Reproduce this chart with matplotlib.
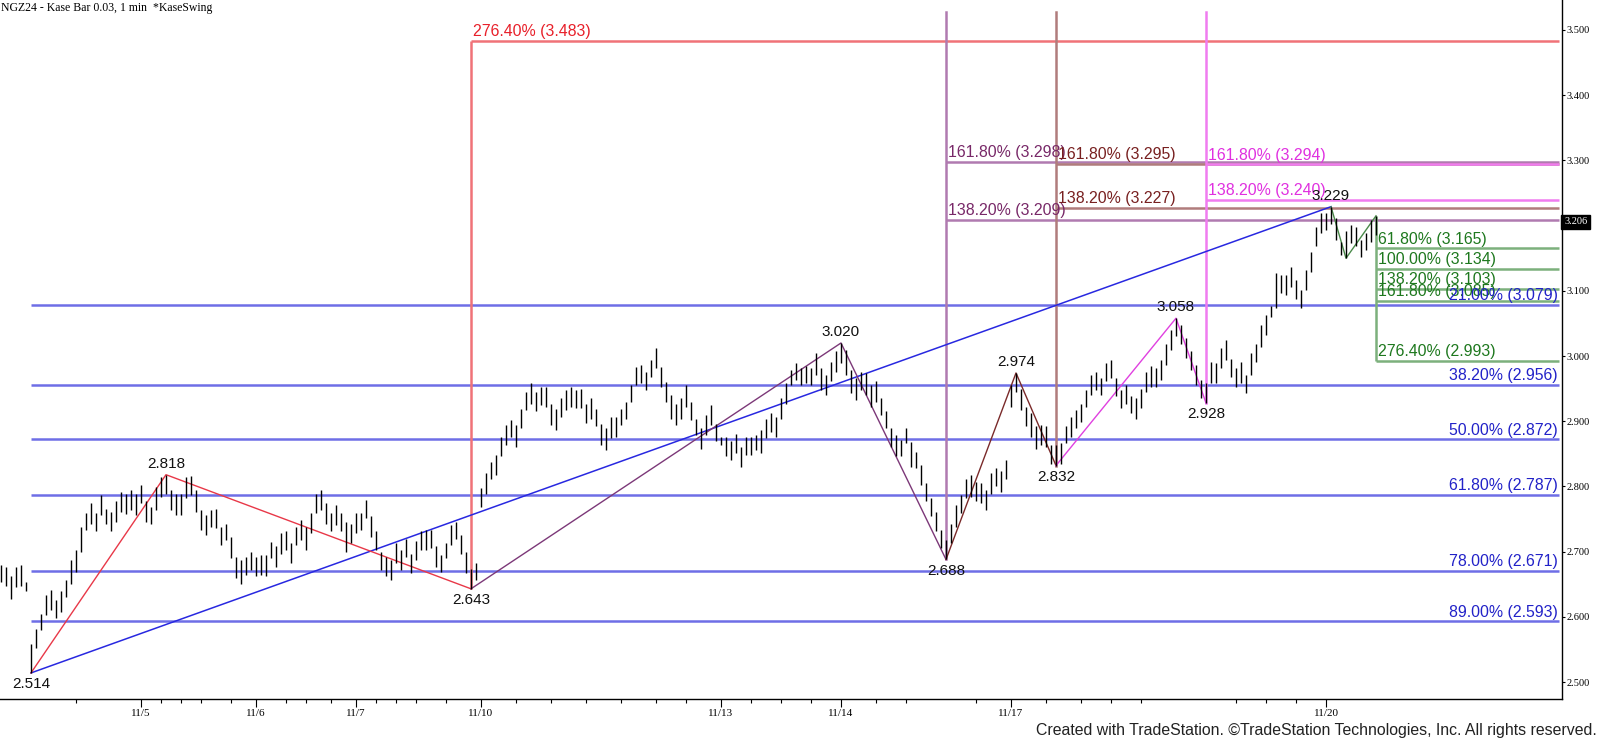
import numpy as np
import matplotlib
matplotlib.use('Agg')
import matplotlib.pyplot as plt
from matplotlib.ticker import FixedLocator, FormatStrFormatter

# Kase bars (0.03), bar index -> low / high
bar_lo = [2.653, 2.648, 2.628, 2.646, 2.648, 2.640, 2.514, 2.552, 2.580, 2.603,
          2.610, 2.598, 2.608, 2.631, 2.651, 2.669, 2.700, 2.733, 2.743, 2.731,
          2.756, 2.743, 2.731, 2.746, 2.761, 2.758, 2.764, 2.756, 2.774, 2.746,
          2.743, 2.764, 2.784, 2.789, 2.764, 2.756, 2.756, 2.782, 2.787, 2.761,
          2.733, 2.725, 2.738, 2.736, 2.710, 2.718, 2.690, 2.659, 2.651, 2.664,
          2.672, 2.662, 2.664, 2.662, 2.690, 2.677, 2.697, 2.702, 2.682, 2.710,
          2.718, 2.702, 2.728, 2.759, 2.764, 2.743, 2.731, 2.741, 2.731, 2.700,
          2.713, 2.728, 2.733, 2.751, 2.723, 2.702, 2.672, 2.662, 2.656, 2.682,
          2.672, 2.692, 2.667, 2.687, 2.702, 2.702, 2.705, 2.677, 2.669, 2.690,
          2.710, 2.720, 2.697, 2.667, 2.643, 2.656, 2.769, 2.789, 2.812, 2.817,
          2.846, 2.863, 2.876, 2.861, 2.889, 2.917, 2.927, 2.915, 2.925, 2.922,
          2.894, 2.887, 2.907, 2.917, 2.922, 2.920, 2.920, 2.897, 2.904, 2.892,
          2.863, 2.856, 2.874, 2.876, 2.894, 2.904, 2.930, 2.955, 2.958, 2.948,
          2.968, 2.981, 2.953, 2.930, 2.904, 2.894, 2.904, 2.922, 2.902, 2.879,
          2.858, 2.879, 2.894, 2.869, 2.863, 2.846, 2.840, 2.851, 2.830, 2.848,
          2.848, 2.856, 2.851, 2.874, 2.884, 2.876, 2.904, 2.927, 2.955, 2.963,
          2.956, 2.958, 2.956, 2.971, 2.948, 2.940, 2.961, 2.976, 2.989, 2.971,
          2.943, 2.933, 2.948, 2.940, 2.922, 2.930, 2.910, 2.889, 2.861, 2.846,
          2.846, 2.866, 2.830, 2.828, 2.802, 2.777, 2.754, 2.731, 2.705, 2.688,
          2.713, 2.738, 2.759, 2.782, 2.784, 2.777, 2.774, 2.764, 2.789, 2.800,
          2.792, 2.812, 2.922, 2.945, 2.917, 2.892, 2.876, 2.858, 2.863, 2.861,
          2.835, 2.832, 2.835, 2.866, 2.876, 2.889, 2.899, 2.922, 2.940, 2.948,
          2.940, 2.961, 2.966, 2.938, 2.920, 2.927, 2.912, 2.904, 2.920, 2.945,
          2.953, 2.953, 2.963, 2.986, 3.009, 3.030, 3.019, 2.997, 2.979, 2.956,
          2.935, 2.928, 2.958, 2.958, 2.981, 2.994, 2.968, 2.953, 2.958, 2.943,
          2.971, 2.991, 3.014, 3.032, 3.060, 3.073, 3.096, 3.094, 3.106, 3.088,
          3.073, 3.101, 3.129, 3.168, 3.188, 3.193, 3.203, 3.178, 3.155, 3.150,
          3.173, 3.168, 3.152, 3.163, 3.175, 3.186]
bar_hi = [2.679, 2.676, 2.662, 2.676, 2.679, 2.654, 2.559, 2.582, 2.605, 2.633,
          2.641, 2.626, 2.639, 2.656, 2.687, 2.702, 2.738, 2.759, 2.775, 2.759,
          2.787, 2.766, 2.761, 2.777, 2.792, 2.789, 2.795, 2.789, 2.802, 2.777,
          2.769, 2.799, 2.815, 2.818, 2.794, 2.789, 2.789, 2.815, 2.816, 2.794,
          2.764, 2.756, 2.764, 2.766, 2.738, 2.743, 2.723, 2.692, 2.687, 2.692,
          2.700, 2.692, 2.695, 2.695, 2.715, 2.708, 2.728, 2.731, 2.713, 2.738,
          2.748, 2.738, 2.759, 2.788, 2.795, 2.774, 2.759, 2.772, 2.759, 2.746,
          2.743, 2.760, 2.759, 2.779, 2.754, 2.731, 2.700, 2.692, 2.687, 2.713,
          2.703, 2.720, 2.697, 2.717, 2.731, 2.733, 2.733, 2.708, 2.695, 2.713,
          2.741, 2.746, 2.725, 2.700, 2.674, 2.682, 2.797, 2.820, 2.838, 2.848,
          2.876, 2.894, 2.902, 2.894, 2.919, 2.945, 2.958, 2.945, 2.953, 2.953,
          2.927, 2.919, 2.935, 2.948, 2.953, 2.948, 2.950, 2.927, 2.935, 2.919,
          2.896, 2.889, 2.907, 2.907, 2.919, 2.930, 2.955, 2.983, 2.986, 2.976,
          2.994, 3.013, 2.983, 2.960, 2.940, 2.927, 2.935, 2.955, 2.930, 2.904,
          2.889, 2.909, 2.925, 2.896, 2.876, 2.876, 2.869, 2.881, 2.861, 2.876,
          2.876, 2.879, 2.886, 2.904, 2.912, 2.907, 2.935, 2.958, 2.979, 2.989,
          2.981, 2.984, 2.981, 3.004, 2.981, 2.971, 2.991, 3.007, 3.020, 3.009,
          2.979, 2.966, 2.976, 2.974, 2.956, 2.961, 2.935, 2.915, 2.889, 2.879,
          2.871, 2.889, 2.868, 2.853, 2.833, 2.805, 2.782, 2.761, 2.733, 2.718,
          2.743, 2.771, 2.787, 2.812, 2.817, 2.807, 2.805, 2.794, 2.820, 2.828,
          2.823, 2.840, 2.956, 2.974, 2.950, 2.922, 2.912, 2.892, 2.894, 2.892,
          2.863, 2.863, 2.866, 2.892, 2.907, 2.917, 2.927, 2.948, 2.971, 2.976,
          2.966, 2.989, 2.994, 2.966, 2.948, 2.956, 2.938, 2.935, 2.950, 2.976,
          2.984, 2.981, 2.994, 3.019, 3.040, 3.058, 3.048, 3.027, 3.007, 2.986,
          2.963, 2.958, 2.991, 2.989, 3.012, 3.025, 2.996, 2.981, 2.991, 2.971,
          3.004, 3.019, 3.048, 3.063, 3.076, 3.127, 3.124, 3.124, 3.137, 3.117,
          3.101, 3.132, 3.160, 3.198, 3.219, 3.219, 3.229, 3.211, 3.175, 3.191,
          3.201, 3.198, 3.178, 3.188, 3.209, 3.215]
last_price = 3.206

# swing pivots (bar index, price)
swing_idx = [6, 33, 94, 168, 189, 203, 211, 235, 241, 266, 269, 275]
swing_px = [2.514, 2.818, 2.643, 3.020, 2.688, 2.974, 2.832, 3.058, 2.928, 3.229, 3.150, 3.215]

# retracement of the 2.514 -> 3.229 move
blue_pct = ['21.00%', '38.20%', '50.00%', '61.80%', '78.00%', '89.00%']
blue_lvl = [3.079, 2.956, 2.872, 2.787, 2.671, 2.593]

red_pct, red_lvl = ['276.40%'], [3.483]
purple_pct, purple_lvl = ['161.80%', '138.20%'], [3.298, 3.209]
brown_pct, brown_lvl = ['161.80%', '138.20%'], [3.295, 3.227]
magenta_pct, magenta_lvl = ['161.80%', '138.20%'], [3.294, 3.240]
green_pct = ['61.80%', '100.00%', '138.20%', '161.80%', '276.40%']
green_lvl = [3.165, 3.134, 3.103, 3.085, 2.993]

date_pos = [28, 51, 71, 96, 144, 168, 202, 265]
date_lab = ['11/5', '11/6', '11/7', '11/10', '11/13', '11/14', '11/17', '11/20']
hour_pos = [15, 32, 36, 40, 46, 57, 61, 66, 75, 79, 83, 89, 103, 110, 117, 124,
            131, 137, 150, 156, 162, 175, 181, 195, 209, 216, 222, 228, 247, 253, 259]

# 3.200 sits under the last-price box
y_ticks = [2.5, 2.6, 2.7, 2.8, 2.9, 3.0, 3.1, 3.3, 3.4, 3.5]

SANS = ['Liberation Sans', 'DejaVu Sans']
SERIF = ['Liberation Serif', 'DejaVu Serif']
LBL = 11.4
YLO, YHI = 2.474, 3.546

fig = plt.figure(figsize=(16, 7.39), dpi=100)
ax = fig.add_axes([0, 40/739, 1562/1600, 699/739])
ax.set_xlim(-0.2, 312.2)
ax.set_ylim(YLO, YHI)
XR = 311.6

# bars
idx = np.arange(len(bar_lo))
ax.vlines(idx, bar_lo, bar_hi, color='black', lw=1.0, zorder=5)

# blue retracement levels
x0 = swing_idx[0]
for p, v in zip(blue_pct, blue_lvl):
    ax.hlines(v, x0, XR, color='#6e6ee6', lw=1.8, zorder=2)

def fib_group(anchor, pcts, lvls, lcol, tcol, vlo, vhi=None):
    if vhi is None:
        ax.axvline(anchor, ymin=(vlo - YLO) / (YHI - YLO), ymax=0.983,
                   color=lcol, lw=1.8, zorder=2)
    else:
        ax.vlines(anchor, vlo, vhi, color=lcol, lw=1.8, zorder=2)
    for p, v in zip(pcts, lvls):
        ax.hlines(v, anchor, XR, color=lcol, lw=1.8, zorder=2)
        ax.annotate(f'{p} ({v:.3f})', (anchor, v), xytext=(1.5, 1.2),
                    textcoords='offset points', ha='left', va='bottom',
                    color=tcol, fontsize=LBL, family=SANS, zorder=6)

fib_group(swing_idx[2], red_pct, red_lvl, '#f07278', '#e8202a', swing_px[2], red_lvl[0])
fib_group(swing_idx[4], purple_pct, purple_lvl, '#b07ab0', '#782868', swing_px[4])
fib_group(swing_idx[6], brown_pct, brown_lvl, '#b07c7c', '#782020', swing_px[6])
fib_group(swing_idx[8], magenta_pct, magenta_lvl, '#f07cf0', '#e030e0', swing_px[8])
fib_group(swing_idx[11], green_pct, green_lvl, '#7cb07c', '#1e781e',
          green_lvl[-1], swing_px[11])

for p, v in zip(blue_pct, blue_lvl):
    ax.annotate(f'{p} ({v:.3f})', (XR, v), xytext=(-1, 1.2),
                textcoords='offset points', ha='right', va='bottom',
                color='#2222c8', fontsize=LBL, family=SANS, zorder=7)

# swing lines
ax.plot([swing_idx[0], swing_idx[9]], [swing_px[0], swing_px[9]], color='#2828e0', lw=1.1, zorder=4)
seg_cols = [(0, 2, '#e83848'), (2, 4, '#7c3878'), (4, 6, '#7a2a2a'), (6, 8, '#e040e0'), (9, 11, '#4a8a4a')]
for a, b, c in seg_cols:
    ax.plot(swing_idx[a:b+1], swing_px[a:b+1], color=c, lw=1.0, zorder=4)

# pivot labels
for k in range(10):
    i, v = swing_idx[k], swing_px[k]
    is_high = (k % 2 == 1) or k == 9
    ax.annotate(f'{v:.3f}', (i, v), xytext=(0, 3 if is_high else -3),
                textcoords='offset points', ha='center',
                va='bottom' if is_high else 'top',
                fontsize=11, family=SANS, color='#111111', zorder=8)

# axes
for s in ['left', 'top']:
    ax.spines[s].set_visible(False)
ax.spines['right'].set_linewidth(1.0)
ax.spines['bottom'].set_linewidth(1.0)
ax.yaxis.tick_right()
ax.set_yticks(y_ticks)
ax.yaxis.set_major_formatter(FormatStrFormatter('%.3f'))
ax.tick_params(axis='y', direction='out', length=2.5, width=0.8, pad=1, labelsize=7.5)
ax.set_xticks(date_pos)
ax.set_xticklabels(date_lab)
ax.xaxis.set_minor_locator(FixedLocator(hour_pos))
ax.tick_params(axis='x', which='major', direction='out', length=6, width=0.8, pad=1.5,
               labelsize=8)
ax.tick_params(axis='x', which='minor', direction='out', length=3, width=0.8)
for t in ax.get_yticklabels() + ax.get_xticklabels():
    t.set_family(SERIF)

ax.annotate(f'{last_price:.3f}', (1, last_price), xycoords=('axes fraction', 'data'),
            xytext=(1.5, 0), textcoords='offset points', ha='left', va='center',
            fontsize=7.5, family=SERIF, color='white', annotation_clip=False,
            bbox=dict(boxstyle='square,pad=0.25', fc='black', ec='black'))

fig.text(1/1600, 1 - 2/739, 'NGZ24 - Kase Bar 0.03, 1 min  *KaseSwing', ha='left', va='top',
         fontsize=8.5, family=SERIF)
fig.text(1597/1600, 8/739, 'Created with TradeStation. ©TradeStation Technologies, Inc. All rights reserved.',
         ha='right', va='center', fontsize=11.4, family=SANS, color='#222222')

fig.savefig('out.png', dpi=100)
